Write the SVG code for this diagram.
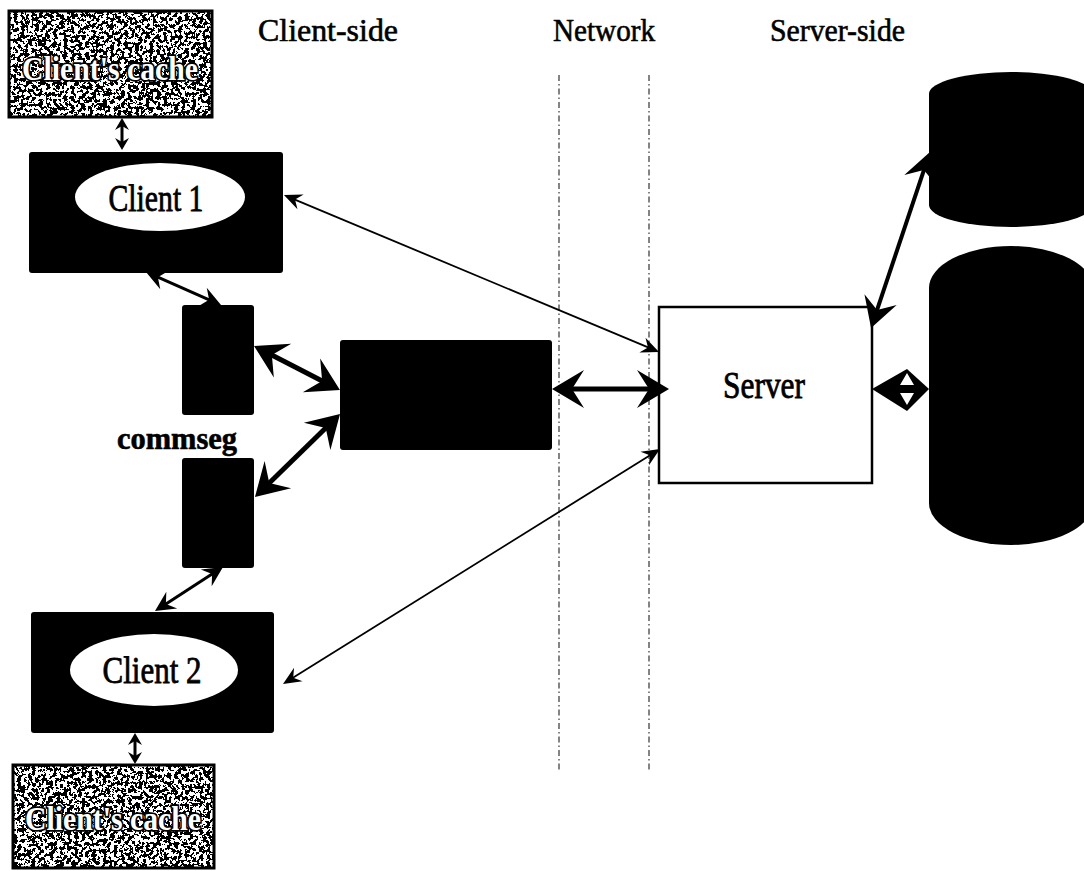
<svg xmlns="http://www.w3.org/2000/svg" width="1084" height="871" viewBox="0 0 1084 871">
  <style>
    .blk { fill: #000; }
    .hdr { font-family: "Liberation Serif", "Times New Roman", serif; font-size: 31px; fill: #000; stroke: #000; stroke-width: 0.6; }
    .lbl { font-family: "Liberation Serif", "Times New Roman", serif; font-size: 37px; fill: #000; stroke: #000; stroke-width: 0.8; text-anchor: middle; }
    .cache-txt { font-family: "Liberation Serif", "Times New Roman", serif; font-weight: bold; font-size: 34px; fill: #fff; stroke: #000; stroke-width: 3.5; paint-order: stroke; text-anchor: middle; }
    .bold { font-family: "Liberation Serif", "Times New Roman", serif; font-weight: bold; font-size: 31px; fill: #000; stroke: #000; stroke-width: 0.6; }
    .divider { stroke: #333; stroke-width: 1.2; stroke-dasharray: 6 3 1.5 3; fill: none; }
    .thick { stroke: #000; stroke-width: 5; fill: none; marker-start: url(#headBig); marker-end: url(#headBig); }
    .thick2 { stroke: #000; stroke-width: 4; fill: none; marker-start: url(#headBig2); marker-end: url(#headBig2); }
    .mid { stroke: #000; stroke-width: 3; fill: none; marker-start: url(#headMid); marker-end: url(#headMid); }
    .small { stroke: #000; stroke-width: 3; fill: none; marker-start: url(#headSmall); marker-end: url(#headSmall); }
    .thin { stroke: #000; stroke-width: 1.8; fill: none; marker-start: url(#headThin); marker-end: url(#headThin); }
  </style>
  <defs>
    <marker id="headBig" markerUnits="userSpaceOnUse" orient="auto-start-reverse" refX="-15" refY="0" markerWidth="40" markerHeight="40" overflow="visible">
      <path d="M0,0 L-32,-19 L-20,0 L-32,19 Z" fill="#000"/>
    </marker>
    <marker id="headBig2" markerUnits="userSpaceOnUse" orient="auto-start-reverse" refX="-14" refY="0" markerWidth="40" markerHeight="40" overflow="visible">
      <path d="M0,0 L-30,-17 L-19,0 L-30,17 Z" fill="#000"/>
    </marker>
    <marker id="headMid" markerUnits="userSpaceOnUse" orient="auto-start-reverse" refX="-8" refY="0" markerWidth="30" markerHeight="30" overflow="visible">
      <path d="M0,0 L-20,-10 L-13,0 L-20,10 Z" fill="#000"/>
    </marker>
    <marker id="headSmall" markerUnits="userSpaceOnUse" orient="auto-start-reverse" refX="-5" refY="0" markerWidth="20" markerHeight="20" overflow="visible">
      <path d="M0,0 L-12,-7 L-8,0 L-12,7 Z" fill="#000"/>
    </marker>
    <marker id="headThin" markerUnits="userSpaceOnUse" orient="auto-start-reverse" refX="-6" refY="0" markerWidth="24" markerHeight="24" overflow="visible">
      <path d="M0,0 L-18,-8 L-12,0 L-18,8 Z" fill="#000"/>
    </marker>
    <!-- speckled black/white grain used for the cache boxes -->
    <filter id="grain" x="0" y="0" width="1" height="1" color-interpolation-filters="sRGB">
      <feTurbulence type="fractalNoise" baseFrequency="0.28" numOctaves="4" seed="7" result="noise"/>
      <feColorMatrix in="noise" type="saturate" values="0" result="grey"/>
      <feComponentTransfer in="grey" result="bw">
        <feFuncR type="discrete" tableValues="0 0 0 1 1 1"/>
        <feFuncG type="discrete" tableValues="0 0 0 1 1 1"/>
        <feFuncB type="discrete" tableValues="0 0 0 1 1 1"/>
        <feFuncA type="linear" slope="0" intercept="1"/>
      </feComponentTransfer>
      <feComposite in="bw" in2="SourceGraphic" operator="in"/>
    </filter>
  </defs>

  <!-- column headings -->
  <g id="headings">
    <text class="hdr" x="258" y="41" textLength="140" lengthAdjust="spacingAndGlyphs">Client-side</text>
    <text class="hdr" x="553" y="41" textLength="102" lengthAdjust="spacingAndGlyphs">Network</text>
    <text class="hdr" x="770" y="41" textLength="135" lengthAdjust="spacingAndGlyphs">Server-side</text>
  </g>

  <!-- network boundary lines -->
  <g id="dividers">
    <line class="divider" x1="559" y1="75" x2="559" y2="770"/>
    <line class="divider" x1="649" y1="75" x2="649" y2="770"/>
  </g>

  <g id="cache-top">
    <rect x="9" y="11" width="203" height="106" fill="#fff" filter="url(#grain)"/>
    <rect x="9" y="11" width="203" height="106" fill="none" stroke="#000" stroke-width="3"/>
    <text class="cache-txt" x="110" y="80" textLength="176" lengthAdjust="spacingAndGlyphs">Client's cache</text>
  </g>

  <g id="client1">
    <rect x="29" y="152" width="254" height="121" rx="3" class="blk"/>
    <ellipse cx="160" cy="197" rx="85" ry="34" fill="#fff"/>
    <text class="lbl" x="156" y="211" textLength="95" lengthAdjust="spacingAndGlyphs">Client 1</text>
  </g>

  <g id="commseg-top">
    <rect x="182" y="305" width="72" height="110" rx="3" class="blk"/>
  </g>

  <g id="commseg-label">
    <text class="bold" x="117" y="449" textLength="120" lengthAdjust="spacingAndGlyphs">commseg</text>
  </g>

  <g id="commseg-bottom">
    <rect x="182" y="458" width="72" height="110" rx="3" class="blk"/>
  </g>

  <g id="router">
    <rect x="340" y="340" width="212" height="110" rx="3" class="blk"/>
  </g>

  <g id="client2">
    <rect x="31" y="612" width="243" height="121" rx="3" class="blk"/>
    <ellipse cx="154" cy="670" rx="84" ry="36" fill="#fff"/>
    <text class="lbl" x="152" y="683" textLength="99" lengthAdjust="spacingAndGlyphs">Client 2</text>
  </g>

  <g id="cache-bottom">
    <rect x="13" y="765" width="201" height="103" fill="#fff" filter="url(#grain)"/>
    <rect x="13" y="765" width="201" height="103" fill="none" stroke="#000" stroke-width="3"/>
    <text class="cache-txt" x="113" y="830" textLength="176" lengthAdjust="spacingAndGlyphs">Client's cache</text>
  </g>

  <g id="server">
    <rect x="659" y="307" width="213" height="176" fill="#fff" stroke="#000" stroke-width="2.5"/>
    <text class="lbl" x="764" y="398" textLength="82" lengthAdjust="spacingAndGlyphs">Server</text>
  </g>

  <g id="store-top">
    <path d="M929,94 A82,22 0 0 1 1093,94 L1093,205 A82,22 0 0 1 929,205 Z" class="blk"/>
  </g>

  <g id="store-bottom">
    <path d="M929,288 A82,42 0 0 1 1093,288 L1093,503 A82,42 0 0 1 929,503 Z" class="blk"/>
  </g>

  <g id="connectors">
    <line class="small" x1="122" y1="123" x2="122" y2="145"/>
    <line class="small" x1="135" y1="738" x2="135" y2="759"/>
    <line class="mid" x1="153.3" y1="275.2" x2="213.7" y2="301.8"/>
    <line class="mid" x1="161.7" y1="606.7" x2="216.3" y2="571.3"/>
    <line class="thick" x1="267.4" y1="352.8" x2="326.6" y2="383.2"/>
    <line class="thick" x1="265.7" y1="486.5" x2="329.3" y2="424.5"/>
    <line class="thick" x1="567" y1="389" x2="654" y2="389"/>
    <line class="thin" x1="289.5" y1="197.3" x2="653.5" y2="349.7"/>
    <line class="thin" x1="288.1" y1="680.8" x2="654.9" y2="452.2"/>
    <line class="thick2" x1="875.5" y1="314.7" x2="925.5" y2="165.3"/>
    <!-- server to lower store: paired heads with a small white up/down pair -->
    <path d="M872,389 L907,369 L929,389 L907,411 Z" fill="#000"/>
    <path d="M907,373 L914,385 L900,385 Z M907,405 L914,393 L900,393 Z" fill="#fff"/>
  </g>
</svg>
